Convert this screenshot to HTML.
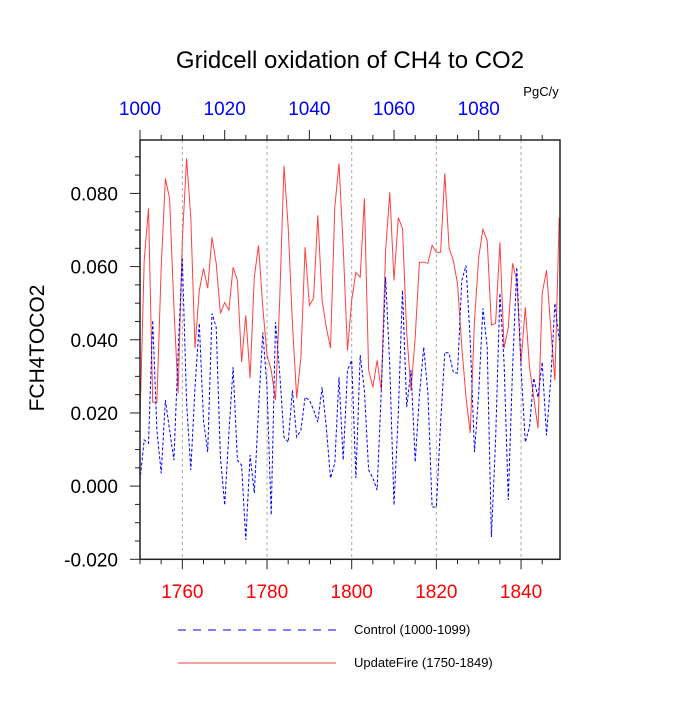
<!DOCTYPE html>
<html><head><meta charset="utf-8"><style>
html,body{margin:0;padding:0;background:#fff;}
svg text{font-family:"Liberation Sans",Arial,sans-serif;}
</style></head><body>
<svg id="chart" width="700" height="700" viewBox="0 0 700 700" xmlns="http://www.w3.org/2000/svg">
<text x="350" y="68" text-anchor="middle" font-size="24">Gridcell oxidation of CH4 to CO2</text>
<text x="541" y="96" text-anchor="middle" font-size="13">PgC/y</text>
<text transform="translate(44,348) rotate(-90)" text-anchor="middle" font-size="21">FCH4TOCO2</text>
<g id="grid"></g>
<g id="series"></g>
<g id="axes"></g>
<g>
<line x1="178" y1="630" x2="336" y2="630" stroke="#0000ff" stroke-width="1" stroke-dasharray="8,7"/>
<text x="354" y="634" font-size="13">Control (1000-1099)</text>
<line x1="178" y1="663" x2="336" y2="663" stroke="#ff4040" stroke-width="1"/>
<text x="354" y="667" font-size="13">UpdateFire (1750-1849)</text>
</g>
</svg>
<script>
const years = Array.from({length:100},(_,i)=>1750+i);
const updateFire = [0.018,0.0617,0.0759,0.0229,0.0229,0.0598,0.0841,0.0786,0.0489,0.0254,
0.0672,0.0896,0.0734,0.0377,0.0535,0.0595,0.0541,0.0680,0.0609,0.0472,
0.0502,0.0481,0.0598,0.0562,0.0339,0.0467,0.0295,0.0571,0.0658,0.0489,
0.0358,0.0317,0.0235,0.0508,0.0876,0.0707,0.0445,0.0240,0.0352,0.0653,
0.0494,0.0513,0.0740,0.0508,0.0434,0.0377,0.0762,0.0882,0.0653,0.0371,
0.0508,0.0584,0.0571,0.0786,0.0317,0.0270,0.0344,0.0262,0.0644,0.0803,
0.0562,0.0734,0.0704,0.0418,0.0262,0.0407,0.0612,0.0612,0.0609,0.0658,
0.0639,0.0639,0.0855,0.0650,0.0617,0.0554,0.0380,0.0243,0.0145,0.0453,
0.0625,0.0702,0.0672,0.0440,0.0445,0.0666,0.0377,0.0434,0.0609,0.0562,
0.0336,0.0489,0.0325,0.0243,0.0158,0.0527,0.0590,0.0434,0.0289,0.0734];
const control = [0.0016,0.0126,0.0117,0.0453,0.0153,0.0035,0.0235,0.0153,0.0071,0.0363,
0.0625,0.0227,0.0044,0.0270,0.0445,0.0180,0.0093,0.0472,0.0434,0.0079,
-0.0052,0.0145,0.0325,0.0071,0.0057,-0.0147,0.0085,-0.0019,0.0208,0.0420,
0.0270,-0.0079,0.0448,0.0309,0.0134,0.0120,0.0262,0.0134,0.0153,0.0243,
0.0235,0.0208,0.0175,0.0270,0.0161,0.0022,0.0063,0.0298,0.0071,0.0317,
0.0344,0.0022,0.0358,0.0262,0.0044,0.0022,-0.0011,0.0262,0.0571,0.0325,
-0.0052,0.0199,0.0535,0.0216,0.0317,0.0066,0.0248,0.0380,0.0254,-0.0057,
-0.0057,0.0172,0.0366,0.0363,0.0311,0.0309,0.0562,0.0603,0.0399,0.0093,
0.0254,0.0486,0.0380,-0.0139,0.0126,0.0527,0.0336,-0.0038,0.0325,0.0598,
0.0325,0.0120,0.0161,0.0295,0.0243,0.0339,0.0139,0.0289,0.0500,0.0399];
const yTickLabels = ["-0.020","0.000","0.020","0.040","0.060","0.080"];
const yTickValues = [-0.02,0,0.02,0.04,0.06,0.08];
const bottomTickLabels = ["1760","1780","1800","1820","1840"];
const bottomTickValues = [1760,1780,1800,1820,1840];
const topTickLabels = ["1000","1020","1040","1060","1080"];
const topTickValues = [1000,1020,1040,1060,1080];

const L=140,R=560,T=140,B=559.3;
const X0=1750,X1=1849.2,Y0=-0.02,Y1=0.0946;
const sx=v=>L+(v-X0)/(X1-X0)*(R-L);
const sy=v=>B-(v-Y0)/(Y1-Y0)*(B-T);
const NS="http://www.w3.org/2000/svg";
function mk(tag,attrs,parent){const e=document.createElementNS(NS,tag);for(const k in attrs)e.setAttribute(k,attrs[k]);parent.appendChild(e);return e;}
const grid=document.getElementById('grid'),series=document.getElementById('series'),axes=document.getElementById('axes');

bottomTickValues.forEach(v=>{
  const g=mk('line',{x1:sx(v),x2:sx(v),y1:T,y2:B,stroke:'#aaa','stroke-width':1,'stroke-dasharray':'3,3'},grid);
  
  
});

function poly(vals,color,dash,name){
  const pts=vals.map((v,i)=>sx(years[i]).toFixed(1)+','+sy(v).toFixed(1)).join(' ');
  const p=mk('polyline',{points:pts,fill:'none',stroke:color,'stroke-width':1},series);
  if(dash)p.setAttribute('stroke-dasharray',dash);
  
  
}
poly(updateFire,'#ff4040',null,'updatefire-line');
poly(control,'#0000ff','3,2','control-line');

const frame=mk('rect',{x:L,y:T,width:R-L,height:B-T,fill:'none',stroke:'#222','stroke-width':1.5},axes);



for(let v=-0.02;v<=0.0946;v+=0.005){
  const vv=Math.round(v*1000)/1000;
  const major=Math.abs(Math.round(vv/0.02)*0.02-vv)<1e-6;
  const t=mk('line',{x1:L-(major?10:5),x2:L,y1:sy(vv),y2:sy(vv),stroke:'#222','stroke-width':1},axes);
  
  
}
yTickValues.forEach((v,i)=>{
  const t=mk('text',{x:118,y:sy(v)+7,'text-anchor':'end','font-size':19},axes);
  t.textContent=yTickLabels[i];
  
  
});
for(let v=1750;v<=1849;v+=5){
  const major=v%20===0;
  const t=mk('line',{x1:sx(v),x2:sx(v),y1:B,y2:B+(major?10:5),stroke:'#222','stroke-width':1},axes);
  
  
}
bottomTickValues.forEach((v,i)=>{
  const t=mk('text',{x:sx(v),y:598,'text-anchor':'middle','font-size':19,fill:'#ff0000'},axes);
  t.textContent=bottomTickLabels[i];
  
  
});
for(let v=1000;v<=1099;v+=5){
  const major=v%20===0;
  const t=mk('line',{x1:sx(v+750),x2:sx(v+750),y1:T,y2:T-(major?10:5),stroke:'#222','stroke-width':1},axes);
  
  
}
topTickValues.forEach((v,i)=>{
  const t=mk('text',{x:sx(v+750),y:115,'text-anchor':'middle','font-size':19,fill:'#0000ff'},axes);
  t.textContent=topTickLabels[i];
  
  
});
</script>
</body></html>
